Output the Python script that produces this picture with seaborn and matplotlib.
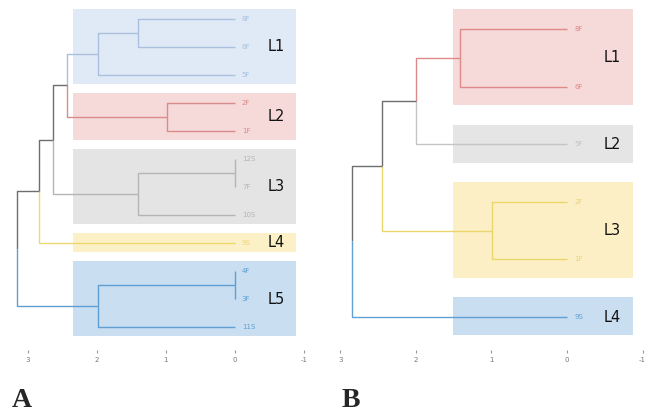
import numpy as np
import matplotlib
matplotlib.use('Agg')
import matplotlib.pyplot as plt
import seaborn as sns

sns.set_theme(style='white')
plt.rcParams['font.family'] = ['DejaVu Sans']

# ----------------------------------------
# DATA
# ----------------------------------------

# panel A: leaves top to bottom, merges (left, right, height)
leaves_a = ['8F', '6F', '5F', '2F', '1F', '12S', '7F', '10S', '9S', '4F', '3F', '11S']
groups_a = ['L1', 'L1', 'L1', 'L2', 'L2', 'L3', 'L3', 'L3', 'L4', 'L5', 'L5', 'L5']
merges_a = [('8F', '6F', 1.41), ('n0', '5F', 1.99), ('2F', '1F', 0.99),
            ('n1', 'n2', 2.43), ('12S', '7F', 0.0), ('n4', '10S', 1.41),
            ('n3', 'n5', 2.64), ('n6', '9S', 2.83), ('4F', '3F', 0.0),
            ('n8', '11S', 1.99), ('n7', 'n9', 3.16)]
group_names_a = ['L1', 'L2', 'L3', 'L4', 'L5']
line_colors_a = ['#a9c1de', '#d98c8c', '#b5b5b5', '#efd870', '#5f9fd3']
box_colors_a = ['#e0e9f6', '#f6dada', '#e4e4e4', '#fbf0c6', '#c9def1']

# panel B
leaves_b = ['8F', '6F', '5F', '2F', '1F', '9S']
groups_b = ['L1', 'L1', 'L2', 'L3', 'L3', 'L4']
merges_b = [('8F', '6F', 1.42), ('n0', '5F', 2.0), ('2F', '1F', 0.99),
            ('n1', 'n2', 2.45), ('n3', '9S', 2.85)]
group_names_b = ['L1', 'L2', 'L3', 'L4']
line_colors_b = ['#df8a8a', '#c4c4c4', '#ecd66c', '#629fd3']
box_colors_b = ['#f6d9d9', '#e5e5e5', '#fcefc5', '#c9def1']

ticks = [3, 2, 1, 0, -1]
above_color = '#6e6e6e'


def draw_dendro(ax, leaves, groups, merges, names, lcols, bcols, box_left):
    gcol = dict(zip(names, lcols))
    pos = {}
    members = {}
    for i, lf in enumerate(leaves):
        pos[lf] = (0.0, i)
        members[lf] = {groups[i]}
    for k, (a, b, h) in enumerate(merges):
        nid = 'n%d' % k
        ya, yb = pos[a][1], pos[b][1]
        pos[nid] = (h, (ya + yb) / 2)
        members[nid] = members[a] | members[b]
        # each child branch gets its own cluster colour, mixed ones are grey
        for c in (a, b):
            xc, yc = pos[c]
            col = gcol[list(members[c])[0]] if len(members[c]) == 1 else above_color
            ax.plot([h, h, xc], [pos[nid][1], yc, yc], color=col, lw=1.0,
                    solid_capstyle='butt', zorder=3)

    # background boxes and group names
    for name, bc in zip(names, bcols):
        idx = [i for i, g in enumerate(groups) if g == name]
        y0, y1 = min(idx) - 0.34, max(idx) + 0.32
        ax.fill_between([box_left, -0.88], y0, y1, color=bc, lw=0, zorder=1)
        ax.text(-0.6, np.mean(idx), name, fontsize=10.5, color='#111111',
                ha='center', va='center',
                family=['Liberation Sans Narrow', 'DejaVu Sans'], zorder=4)

    # leaf labels
    for i, lf in enumerate(leaves):
        ax.text(-0.1, i, lf, fontsize=5, color=gcol[groups[i]], ha='left',
                va='center', zorder=4)

    ax.set_xticks(ticks)
    ax.set_xticklabels([str(t) for t in ticks])
    ax.set_yticks([])
    ax.tick_params(axis='x', length=2, width=0.8, color='#999999', labelsize=5,
                   labelcolor='#777777', pad=3, bottom=True)
    for s in ax.spines.values():
        s.set_visible(False)


fig = plt.figure(figsize=(6.5, 4.13), dpi=100)

# panel A
ax_a = fig.add_axes([7 / 650, 1 - 350 / 413, 304 / 650, 345 / 413])
draw_dendro(ax_a, leaves_a, groups_a, merges_a, group_names_a,
            line_colors_a, box_colors_a, 2.35)
ax_a.set_xlim(3.3, -1.1)
ax_a.set_ylim((350 - 19) / 28, (5 - 19) / 28)

# panel B
ax_b = fig.add_axes([336.7 / 650, 1 - 350 / 413, 309.6 / 650, 345 / 413])
draw_dendro(ax_b, leaves_b, groups_b, merges_b, group_names_b,
            line_colors_b, box_colors_b, 1.51)
ax_b.set_xlim(3.05, -1.05)
ax_b.set_ylim((350 - 29) / 57.6, (5 - 29) / 57.6)

fig.text(12 / 650, 6 / 413, 'A', fontsize=20, fontweight='bold', va='baseline',
         family=['Liberation Serif', 'DejaVu Serif'])
fig.text(342 / 650, 6 / 413, 'B', fontsize=20, fontweight='bold', va='baseline',
         family=['Liberation Serif', 'DejaVu Serif'])

fig.savefig('out.png', dpi=100)
